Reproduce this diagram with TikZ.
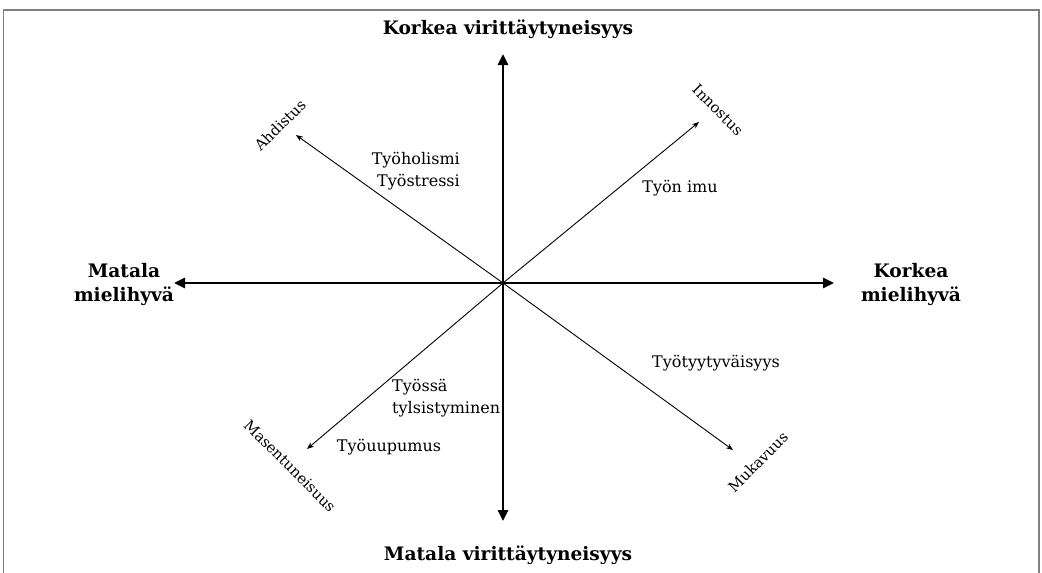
\documentclass[tikz,border=0pt]{standalone}
\usepackage{fontspec}
\setmainfont{DejaVu Serif}
\usetikzlibrary{arrows.meta}
\begin{document}
\begin{tikzpicture}[x=1pt,y=-1pt,
 axis/.style={line width=2.6pt,-{Triangle[length=11pt,width=10pt]}},
 diag/.style={line width=0.9pt,-{Stealth[length=7pt,width=5.5pt]}},
 head/.style={font=\bfseries\fontsize{18.6}{24}\selectfont, align=center, inner sep=0pt},
 lab/.style={font=\fontsize{16}{22.5}\selectfont, inner sep=0pt},
 rot/.style={font=\fontsize{14.8}{17}\selectfont, inner sep=0pt}]
\useasboundingbox (0,0) rectangle (1042,573);
\draw[gray, line width=1.5pt] (3.5,573) -- (3.5,10) -- (1039,10) -- (1039,573);
% axes
\coordinate (O) at (503,283);
\coordinate (N) at (503,54);
\coordinate (S) at (503,521);
\coordinate (W) at (174,283);
\coordinate (E) at (834,283);
\coordinate (NE) at (699,122);
\coordinate (NW) at (296,135);
\coordinate (SW) at (307,449);
\coordinate (SE) at (733,450);
\draw[axis] (O) -- (N);
\draw[axis] (O) -- (S);
\draw[axis] (O) -- (W);
\draw[axis] (O) -- (E);
\draw[diag] (O) -- (NE);
\draw[diag] (O) -- (NW);
\draw[diag] (O) -- (SW);
\draw[diag] (O) -- (SE);
% heads
\node[head] (top) at (508,29) {Korkea virittäytyneisyys};
\node[head] (bot) at (508,555) {Matala virittäytyneisyys};
\node[head] (left) at (124,284) {Matala\\mielihyvä};
\node[head] (right) at (911,284) {Korkea\\mielihyvä};
% rotated
\node[rot, rotate=45] (ahd) at (280,125) {Ahdistus};
\node[rot, rotate=-45] (inn) at (718,110) {Innostus};
\node[rot, rotate=-45] (mas) at (290,466) {Masentuneisuus};
\node[rot, rotate=45] (muk) at (758,462) {Mukavuus};
% inner labels
\node[lab, anchor=east, align=right] (hol) at (460,171) {Työholismi\\Työstressi};
\node[lab] (imu) at (680,188) {Työn imu};
\node[lab] (tyy) at (716,363) {Työtyytyväisyys};
\node[lab, anchor=west, align=left] (tyl) at (392,398) {Työssä\\tylsistyminen};
\node[lab] (uup) at (389,447) {Työuupumus};
\end{tikzpicture}
\end{document}
